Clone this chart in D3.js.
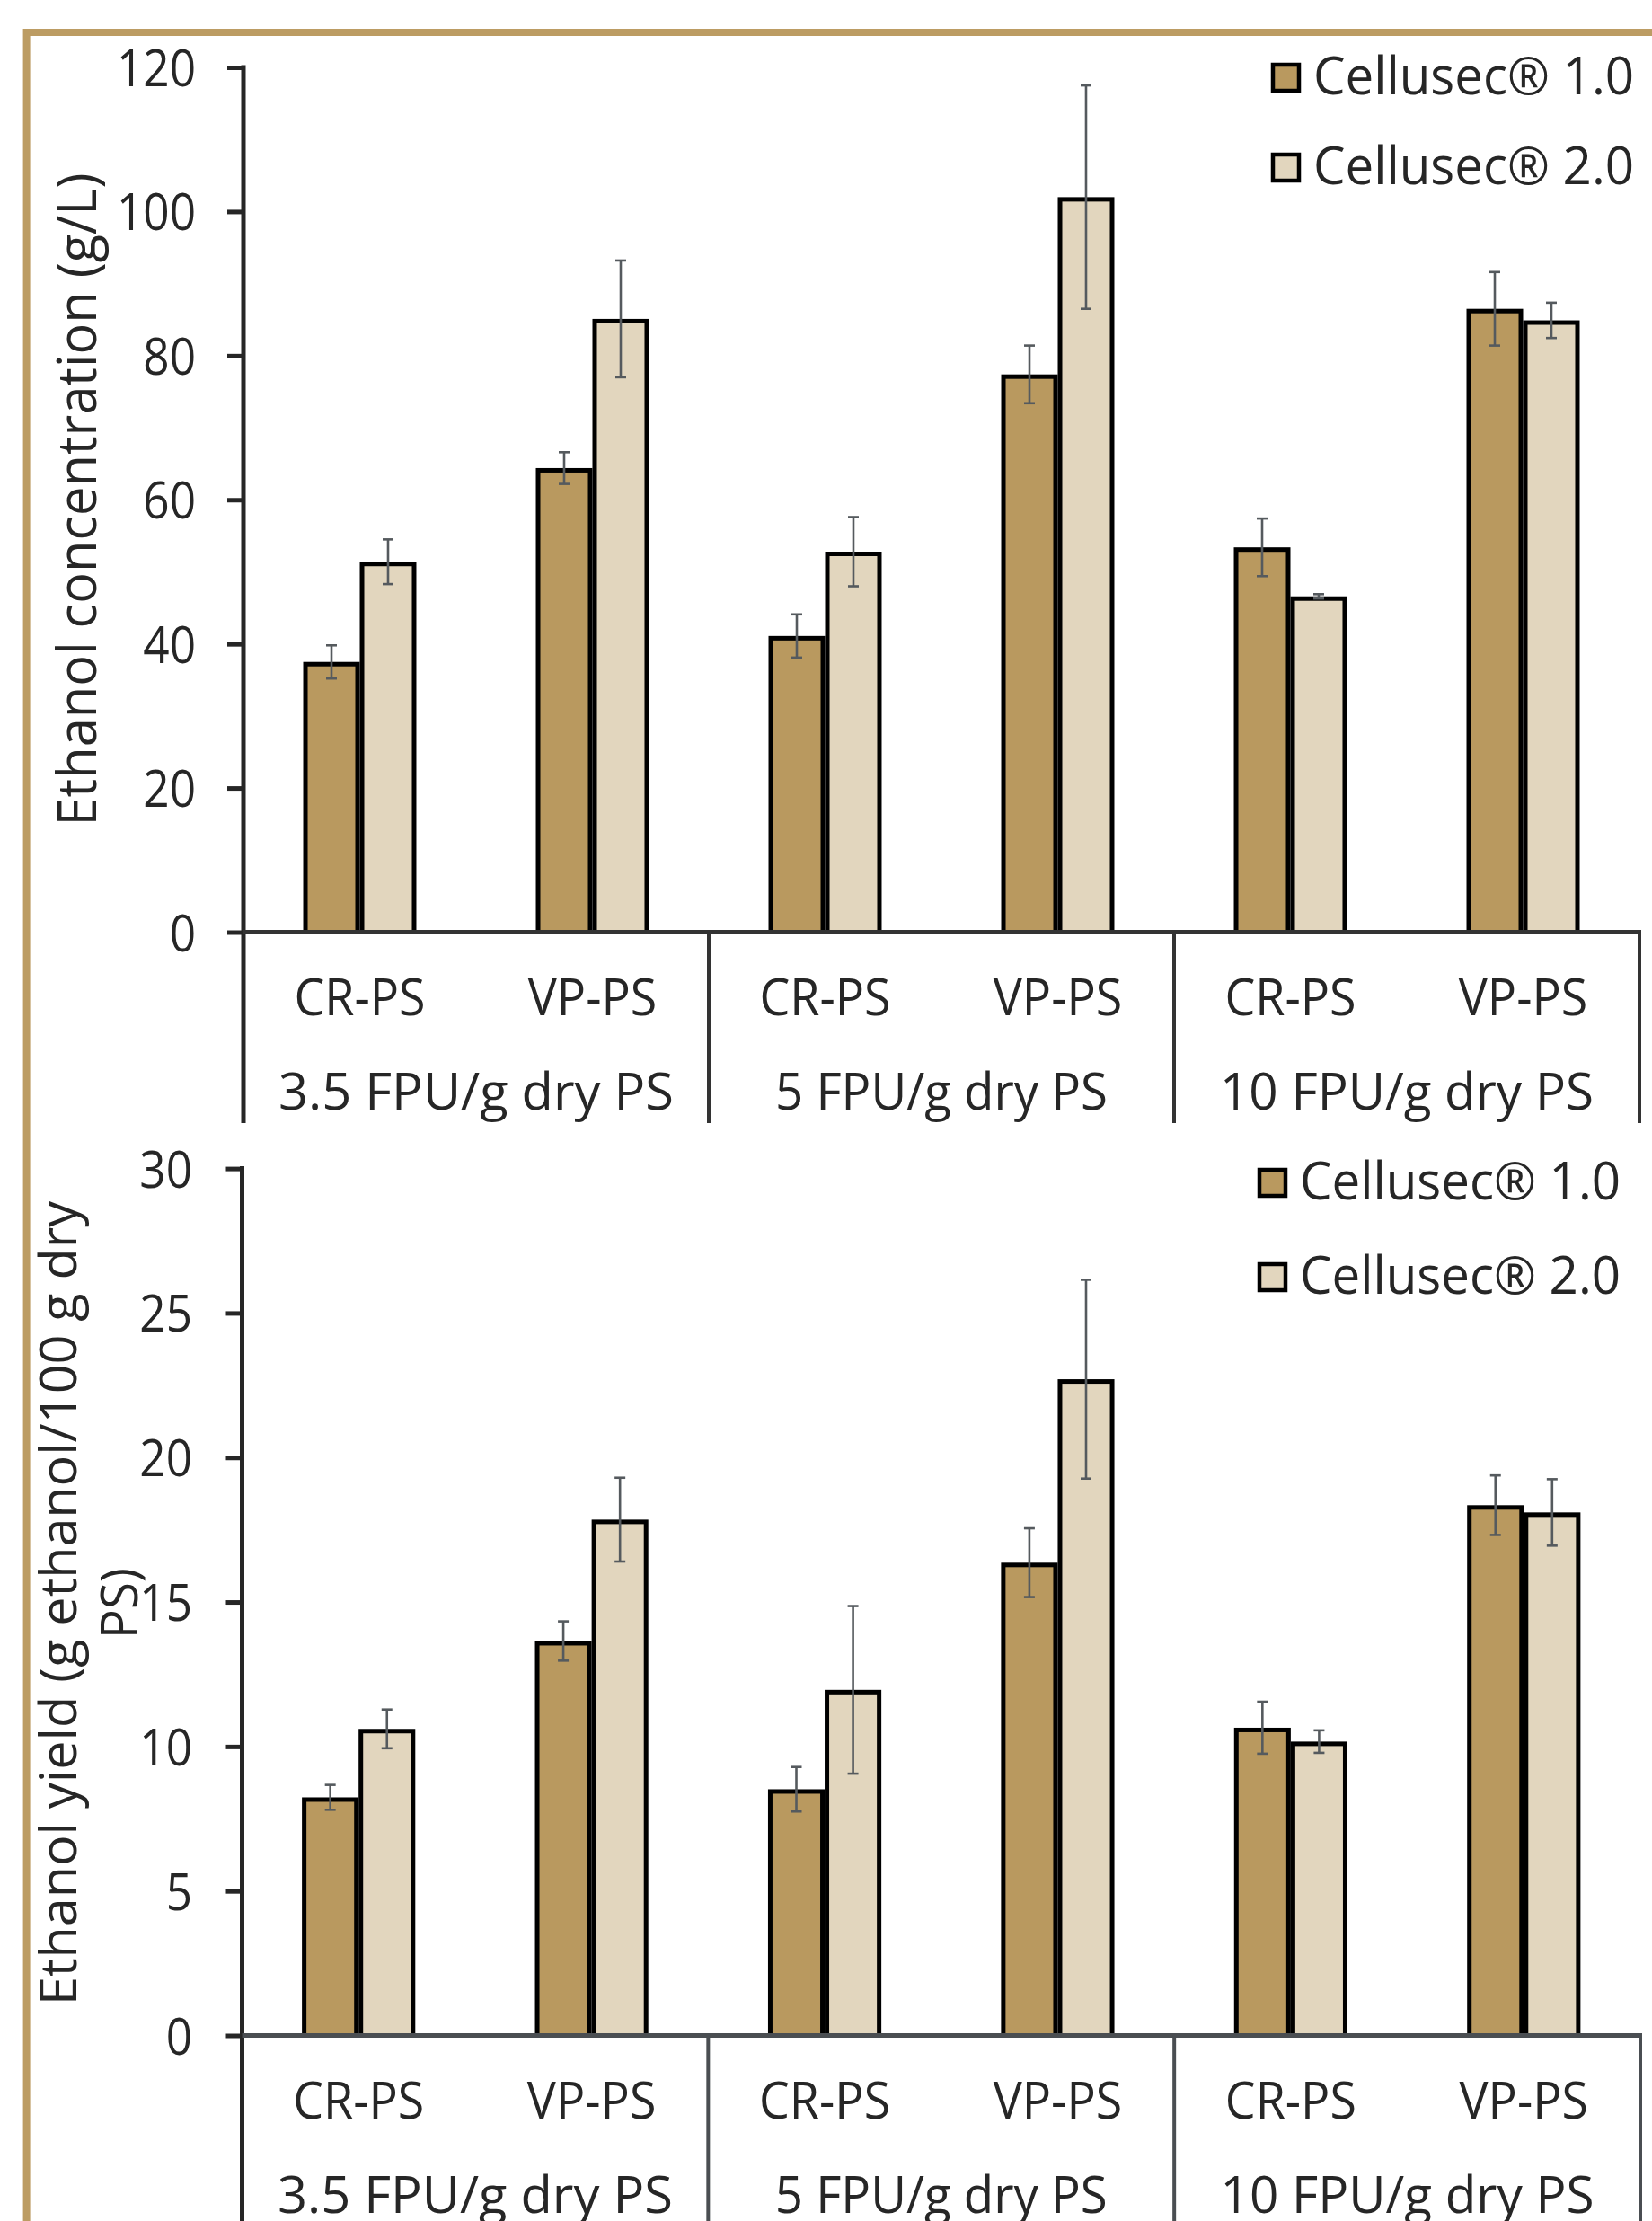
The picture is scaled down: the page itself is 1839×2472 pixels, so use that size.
<!DOCTYPE html>
<html>
<head>
<meta charset="utf-8">
<script src="https://cdn.jsdelivr.net/npm/d3@7"></script>
<style>
  html,body{margin:0;padding:0;background:#fff;}
  svg{display:block;}
  text{font-family:"Open Sans",sans-serif;fill:#262626;}
</style>
</head>
<body>
<script>
// ---------------- DATA ----------------
const groups = ["3.5 FPU/g dry PS", "5 FPU/g dry PS", "10 FPU/g dry PS"];
const substrates = ["CR-PS", "VP-PS"];
const seriesNames = ["Cellusec\u00AE 1.0", "Cellusec\u00AE 2.0"];

// Ethanol concentration (g/L), order: 3.5 CR, 3.5 VP, 5 CR, 5 VP, 10 CR, 10 VP
const conc1 = [37.5, 64.4, 41.1, 77.4, 53.4, 86.5];
const conc1Err = [2.3, 2.2, 3.0, 4.0, 4.0, 5.1];
const conc2 = [51.4, 85.1, 52.8, 102.0, 46.6, 84.9];
const conc2Err = [3.1, 8.1, 4.8, 15.5, 0.3, 2.45];

// Ethanol yield (g ethanol/100 g dry PS)
const yield1 = [8.24, 13.65, 8.52, 16.36, 10.65, 18.35];
const yield1Err = [0.43, 0.68, 0.77, 1.19, 0.9, 1.03];
const yield2 = [10.61, 17.85, 11.96, 22.71, 10.17, 18.1];
const yield2Err = [0.67, 1.45, 2.9, 3.44, 0.39, 1.15];

const concTicks = [0, 20, 40, 60, 80, 100, 120];
const yieldTicks = [0, 5, 10, 15, 20, 25, 30];

// ---------------- STYLE ----------------
const W = 1839, H = 2472;
const fills = ["#B9995F", "#E2D6BE"];
const gold = "#BC9C63";

const svg = d3.select("body").append("svg").attr("width", W).attr("height", H);
svg.append("rect").attr("width", W).attr("height", H).attr("fill", "#fff");

// frame
svg.append("path").attr("d", `M29.6,${H} V36 H${W}`)
  .attr("fill", "none").attr("stroke", gold).attr("stroke-width", 8);

function squeeze(sel, ratio) {
  sel.each(function () {
    const L = this.getComputedTextLength();
    d3.select(this).attr("textLength", L * ratio).attr("lengthAdjust", "spacingAndGlyphs");
  });
}

function drawPanel(cfg) {
  const g = svg.append("g");
  const cats = d3.range(groups.length * substrates.length);
  const x = d3.scaleBand().domain(cats).range([cfg.x0, cfg.x1]).padding(0);
  const bw = x.bandwidth();
  const xs = d3.scaleBand().domain([0, 1]).range([0, bw]).paddingInner(0).paddingOuter(1.056);
  const y = d3.scaleLinear().domain([0, cfg.max]).range([cfg.y0, cfg.yTop]);

  // bars
  cfg.values.forEach((vals, s) => {
    g.append("g").selectAll("rect").data(vals).join("rect")
      .attr("x", (d, i) => x(i) + xs(s) + 2.5)
      .attr("y", d => y(d) + 2.5)
      .attr("width", xs.bandwidth() - 5)
      .attr("height", d => y(0) - y(d) - 2.5)
      .attr("fill", fills[s]).attr("stroke", "#000").attr("stroke-width", 5);
  });
  // error bars
  cfg.values.forEach((vals, s) => {
    const errs = cfg.errors[s];
    const eg = g.append("g").attr("stroke", "#555a5e").attr("stroke-width", 2.6).attr("fill", "none");
    vals.forEach((v, i) => {
      const cx = x(i) + xs(s) + xs.bandwidth() / 2;
      const e = errs[i];
      eg.append("line").attr("x1", cx).attr("x2", cx).attr("y1", y(v - e)).attr("y2", y(v + e));
      eg.append("line").attr("x1", cx - 6).attr("x2", cx + 6).attr("y1", y(v - e)).attr("y2", y(v - e));
      eg.append("line").attr("x1", cx - 6).attr("x2", cx + 6).attr("y1", y(v + e)).attr("y2", y(v + e));
    });
  });

  // y axis
  const ya = g.append("g").attr("transform", `translate(${cfg.x0},0)`)
    .call(d3.axisLeft(y).tickValues(cfg.ticks).tickSize(18).tickPadding(cfg.x0 - cfg.labelRight - 18));
  ya.select(".domain").remove();
  ya.selectAll(".tick line").attr("stroke", "#262626").attr("stroke-width", 5);
  ya.selectAll(".tick text").attr("font-size", 57).attr("font-family", "Open Sans")
    .attr("fill", "#262626").attr("dy", "0.36em");
  squeeze(ya.selectAll(".tick text"), 0.9);

  // axis lines
  g.append("line").attr("x1", cfg.x0).attr("x2", cfg.x0).attr("y1", cfg.yTop - 2.5).attr("y2", cfg.bottom)
    .attr("stroke", "#262626").attr("stroke-width", 5);
  g.append("line").attr("x1", cfg.x0).attr("x2", cfg.x1 + 2).attr("y1", cfg.y0).attr("y2", cfg.y0)
    .attr("stroke", cfg.xColor).attr("stroke-width", 5);
  d3.range(1, groups.length + 1).forEach(k => {
    const xx = cfg.x0 + k * 2 * bw;
    g.append("line").attr("x1", xx).attr("x2", xx).attr("y1", cfg.y0).attr("y2", cfg.bottom)
      .attr("stroke", cfg.xColor).attr("stroke-width", 4);
  });

  // category labels
  const cl = g.append("g").selectAll("text").data(cats).join("text")
    .attr("x", i => x(i) + bw / 2).attr("y", cfg.y0 + 92)
    .attr("text-anchor", "middle").attr("font-size", 56)
    .text(i => substrates[i % substrates.length]);
  squeeze(cl, 0.96);
  const gl = g.append("g").selectAll("text").data(groups).join("text")
    .attr("x", (d, k) => cfg.x0 + (2 * k + 1) * bw).attr("y", cfg.y0 + 197)
    .attr("text-anchor", "middle").attr("font-size", 56)
    .text(d => d);
  gl.each(function (d) {
    d3.select(this).attr("textLength", d.length === 16 ? 440 : (d.length === 15 ? 416 : 370))
      .attr("lengthAdjust", "spacingAndGlyphs");
  });

  // legend
  seriesNames.forEach((name, s) => {
    const ly = cfg.legendY[s];
    g.append("rect").attr("x", cfg.legendX + 2).attr("y", ly + 2).attr("width", 29).attr("height", 29)
      .attr("fill", fills[s]).attr("stroke", "#000").attr("stroke-width", 4.5);
    const t = g.append("text").attr("x", cfg.legendX + 47).attr("y", ly + 35)
      .attr("font-size", 58).text(name);
    t.attr("textLength", 357).attr("lengthAdjust", "spacingAndGlyphs");
  });

  // y title
  const tg = g.append("g");
  cfg.title.forEach((line, j) => {
    tg.append("text")
      .attr("transform", `translate(${cfg.titleX[j]},${cfg.titleCY}) rotate(-90)`)
      .attr("text-anchor", "middle").attr("font-size", cfg.titleSize)
      .attr("textLength", cfg.titleLen[j]).attr("lengthAdjust", "spacingAndGlyphs")
      .text(line);
  });
}

drawPanel({
  x0: 271, x1: 1825, y0: 1037.5, yTop: 75, max: 120, bottom: 1250,
  ticks: concTicks, labelRight: 218, xColor: "#333333",
  values: [conc1, conc2], errors: [conc1Err, conc2Err],
  legendX: 1415, legendY: [70, 170],
  title: ["Ethanol concentration (g/L)"], titleX: [107], titleCY: 556, titleSize: 60, titleLen: [727]
});

drawPanel({
  x0: 269.5, x1: 1826, y0: 2265.5, yTop: 1300.6, max: 30, bottom: H,
  ticks: yieldTicks, labelRight: 214, xColor: "#4a4e52",
  values: [yield1, yield2], errors: [yield1Err, yield2Err],
  legendX: 1400, legendY: [1300, 1405],
  title: ["Ethanol yield (g ethanol/100 g dry", "PS)"], titleX: [85, 152.6], titleCY: 1784.5, titleSize: 57, titleLen: [895, 79]
});
</script>
</body>
</html>
